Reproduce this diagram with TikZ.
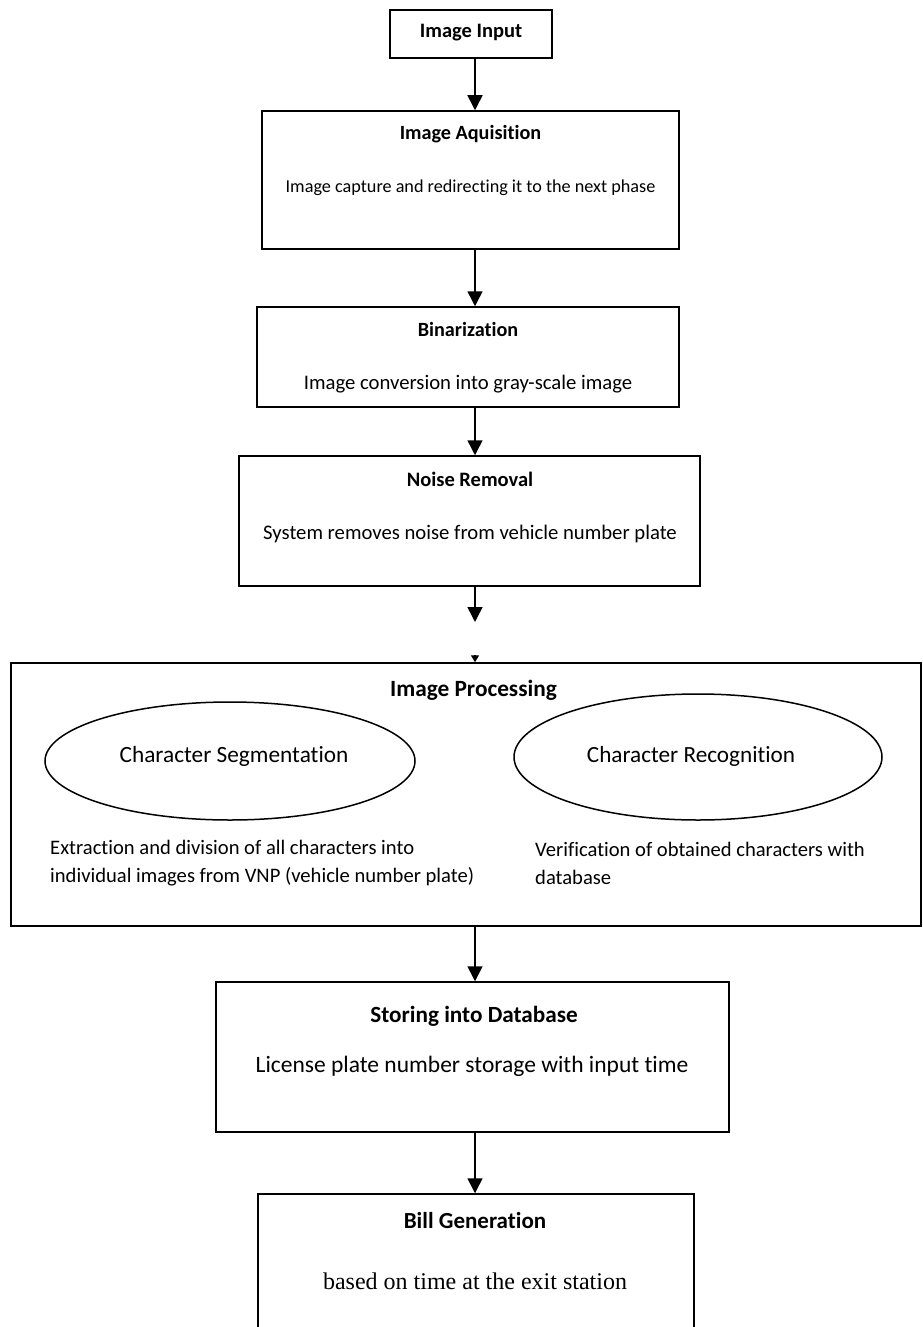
\documentclass[tikz,border=0pt]{standalone}
\usepackage{fontspec}
\setmainfont{Carlito}[Ligatures=NoCommon]
\newfontfamily\serifbody{Liberation Serif}
\usetikzlibrary{arrows.meta,shapes.geometric}
\begin{document}
\begin{tikzpicture}[x=1pt,y=-1pt,
  box/.style={draw,line width=1.5pt,rectangle,inner sep=0pt},
  oval/.style={draw,line width=1.5pt,ellipse,inner sep=0pt},
  heading/.style={font=\fontsize{20.5}{24}\selectfont\bfseries,inner sep=0pt},
  body/.style={font=\fontsize{20.7}{24}\selectfont,inner sep=0pt},
  para/.style={font=\fontsize{20.6}{28}\selectfont,inner sep=0pt,anchor=west,align=left},
  flow/.style={line width=1.5pt,-{Triangle[width=15pt,length=15pt]}},
  tick/.style={line width=1.5pt,-{Triangle[width=8pt,length=7pt]}}]
\useasboundingbox (0,0) rectangle (923,1327);
\clip (0,0) rectangle (923,1327);
\fill[white] (0,0) rectangle (923,1327);
\coordinate (ax) at (475,0);

% stage boxes
\node[box,minimum width=162pt,minimum height=48pt] (input) at (471,34) {};
\node[heading] (inputT) at (471,33) {Image Input};

\node[box,minimum width=417pt,minimum height=138pt] (acq) at (470.5,180) {};
\node[heading,font=\fontsize{20.2}{24}\selectfont\bfseries] (acqT) at (470.5,134) {Image Aquisition};
\node[body,font=\fontsize{18.2}{22}\selectfont] (acqB) at (470.5,188) {Image capture and redirecting it to the next phase};

\node[box,minimum width=422pt,minimum height=100pt] (bin) at (468,357) {};
\node[heading,font=\fontsize{20.2}{24}\selectfont\bfseries] (binT) at (468,329) {Binarization};
\node[body] (binB) at (468,384) {Image conversion into gray-scale image};

\node[box,minimum width=461pt,minimum height=130pt] (noise) at (469.5,521) {};
\node[heading] (noiseT) at (470,479) {Noise Removal};
\node[body] (noiseB) at (470,534) {System removes noise from vehicle number plate};

% image processing group
\node[box,minimum width=910pt,minimum height=263pt] (proc) at (466,794.5) {};
\node[heading,font=\fontsize{23.3}{26}\selectfont\bfseries] (procT) at (473.5,690) {Image Processing};
\node[oval,minimum width=370pt,minimum height=118pt] (seg) at (230,761) {};
\node[body,font=\fontsize{23.3}{26}\selectfont] (segT) at (234,756) {Character Segmentation};
\node[oval,minimum width=368pt,minimum height=126pt] (rec) at (698,757) {};
\node[body,font=\fontsize{23.2}{26}\selectfont] (recT) at (691,756) {Character Recognition};
\node[para] (segB) at (50,863) {Extraction and division of all characters into\\individual images from VNP (vehicle number plate)};
\node[para] (recB) at (535,863) {Verification of obtained characters with\\database};

\node[box,minimum width=513pt,minimum height=150pt] (store) at (472.5,1057) {};
\node[heading,font=\fontsize{23.2}{26}\selectfont\bfseries] (storeT) at (474,1016) {Storing into Database};
\node[body,font=\fontsize{23.5}{26}\selectfont] (storeB) at (472,1066) {License plate number storage with input time};

\node[box,minimum width=436pt,minimum height=200pt] (bill) at (476,1294) {};
\node[heading,font=\fontsize{23}{26}\selectfont\bfseries] (billT) at (475,1220) {Bill Generation};
\node[body,font=\fontsize{24}{26}\selectfont\serifbody] (billB) at (475,1281) {based on time at the exit station};

% connectors
\draw[flow] (input.south -| ax) -- (acq.north -| ax);
\draw[flow] (acq.south -| ax) -- (bin.north -| ax);
\draw[flow] (bin.south -| ax) -- (noise.north -| ax);
\coordinate (gap) at (475,622);
\draw[flow] (noise.south -| ax) -- (gap);
\coordinate (tickstart) at (475,655);
\draw[tick] (tickstart) -- (proc.north -| ax);
\draw[flow] (proc.south -| ax) -- (store.north -| ax);
\draw[flow] (store.south -| ax) -- (bill.north -| ax);
\end{tikzpicture}
\end{document}
